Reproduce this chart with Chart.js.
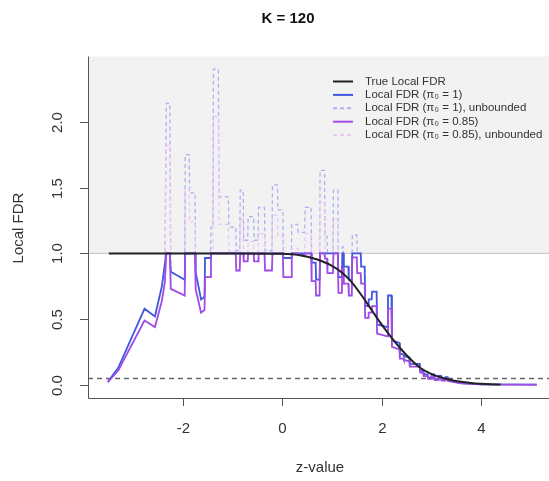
<!DOCTYPE html>
<html>
<head>
<meta charset="utf-8">
<script src="https://cdn.jsdelivr.net/npm/chart.js@4"></script>
<style>
  body { margin: 0; background: #fff; }
  canvas { display: block; }
</style>
</head>
<body>
<canvas id="graphique_fdr" width="549" height="481"></canvas>
<script>
// DATA
const chartTitle = 'K = 120';
const xTicks = [-2, 0, 2, 4];
const yTicks = [0.0, 0.5, 1.0, 1.5, 2.0];
const cutoff = 0.05;

// true local fdr curve
const trueZ = [-3.5, -1, 0, 0.2, 0.4, 0.6, 0.8, 1.0, 1.2, 1.4, 1.6, 1.8, 2.0, 2.2, 2.4, 2.6, 2.8, 3.0, 3.2, 3.4, 3.6, 3.8, 4.0, 4.2, 4.4];
const trueFdr = [1, 1, 0.998, 0.993, 0.982, 0.965, 0.94, 0.905, 0.855, 0.78, 0.68, 0.57, 0.46, 0.36, 0.27, 0.19, 0.125, 0.085, 0.058, 0.038, 0.024, 0.015, 0.009, 0.005, 0.003];

// estimated local fdr (step points)
const zValues = [
  -3.52, -3.31, -2.78, -2.57, -2.43, -2.37, -2.34, -2.27, -2.25, -1.97,
  -1.96, -1.88, -1.87, -1.76, -1.75, -1.64, -1.57, -1.56, -1.45, -1.44,
  -1.40, -1.39, -1.29, -1.28, -1.09, -1.08, -0.94, -0.93, -0.86, -0.85,
  -0.79, -0.78, -0.70, -0.69, -0.58, -0.57, -0.49, -0.48, -0.36, -0.35,
  -0.21, -0.20, -0.10, -0.09, 0.01, 0.02, 0.18, 0.19, 0.31, 0.32,
  0.45, 0.46, 0.58, 0.59, 0.67, 0.68, 0.75, 0.76, 0.85, 0.86,
  0.90, 0.91, 1.02, 1.03, 1.12, 1.13, 1.20, 1.21, 1.23, 1.24,
  1.33, 1.34, 1.40, 1.41, 1.50, 1.51, 1.58, 1.59, 1.66, 1.67,
  1.73, 1.74, 1.80, 1.81, 1.90, 1.91, 2.12, 2.13, 2.20, 2.21,
  2.36, 2.37, 2.44, 2.45, 2.56, 2.57, 2.77, 2.78, 2.84, 2.85,
  2.93, 2.94, 3.00, 3.01, 3.06, 3.07, 3.14, 3.15, 3.20, 3.21,
  3.28, 3.29, 3.33, 3.34, 3.60, 4.00, 5.13
];
const fdrPi1 = [
  0.025, 0.13, 0.58, 0.52, 0.75, 0.92, 1, 1, 0.86, 0.80,
  1, 1, 1, 1, 0.86, 0.65, 0.67, 0.965, 0.965, 1,
  1, 1, 1, 1, 1, 1, 1, 1, 1, 1,
  1, 1, 1, 1, 1, 1, 1, 1, 1, 1,
  1, 1, 1, 1, 1, 0.965, 0.965, 1, 1, 1,
  1, 1, 1, 0.93, 0.93, 0.80, 0.80, 1, 1, 1,
  1, 1, 1, 1, 1, 0.82, 0.82, 1, 1, 0.90,
  0.90, 0.80, 0.80, 1, 1, 1, 1, 0.90, 0.90, 0.60,
  0.60, 0.65, 0.65, 0.71, 0.71, 0.46, 0.44, 0.68, 0.68, 0.34,
  0.32, 0.24, 0.23, 0.22, 0.21, 0.16, 0.16, 0.11, 0.11, 0.08,
  0.08, 0.055, 0.055, 0.08, 0.08, 0.045, 0.045, 0.07, 0.07, 0.04,
  0.04, 0.06, 0.06, 0.035, 0.014, 0.005, 0.003
];
const fdrPi1Unbounded = [
  0.025, 0.13, 0.58, 0.52, 0.75, 0.92, 2.14, 2.14, 0.86, 0.80,
  1.75, 1.75, 1.46, 1.46, 0.86, 0.65, 0.67, 0.965, 0.965, 1.20,
  1.20, 2.40, 2.40, 1.43, 1.43, 1.20, 1.20, 1.02, 1.02, 1.48,
  1.48, 1.10, 1.10, 1.28, 1.28, 1.10, 1.10, 1.35, 1.35, 1.02,
  1.02, 1.52, 1.52, 1.33, 1.33, 0.965, 0.965, 1.22, 1.22, 1.16,
  1.16, 1.35, 1.35, 0.93, 0.93, 0.80, 0.80, 1.63, 1.63, 1.13,
  1.13, 1.00, 1.00, 1.48, 1.48, 0.82, 0.82, 1.05, 1.05, 0.90,
  0.90, 0.80, 0.80, 1.14, 1.14, 1.00, 1.00, 0.90, 0.90, 0.60,
  0.60, 0.65, 0.65, 0.71, 0.71, 0.46, 0.44, 0.68, 0.68, 0.34,
  0.32, 0.24, 0.23, 0.22, 0.21, 0.16, 0.16, 0.11, 0.11, 0.08,
  0.08, 0.055, 0.055, 0.08, 0.08, 0.045, 0.045, 0.07, 0.07, 0.04,
  0.04, 0.06, 0.06, 0.035, 0.014, 0.005, 0.003
];
const fdrPi085 = [
  0.021, 0.11, 0.49, 0.44, 0.64, 0.78, 1, 1, 0.73, 0.68,
  1, 1, 1, 1, 0.73, 0.55, 0.57, 0.82, 0.82, 1,
  1, 1, 1, 1, 1, 1, 1, 0.87, 0.87, 1,
  1, 0.94, 0.94, 1, 1, 0.94, 0.94, 1, 1, 0.87,
  0.87, 1, 1, 1, 1, 0.82, 0.82, 1, 1, 0.99,
  0.99, 1, 1, 0.79, 0.79, 0.68, 0.68, 1, 1, 0.96,
  0.96, 0.85, 0.85, 1, 1, 0.70, 0.70, 0.89, 0.89, 0.77,
  0.77, 0.68, 0.68, 0.97, 0.97, 0.85, 0.85, 0.77, 0.77, 0.51,
  0.51, 0.55, 0.55, 0.60, 0.60, 0.39, 0.37, 0.58, 0.58, 0.29,
  0.27, 0.20, 0.20, 0.19, 0.18, 0.14, 0.14, 0.094, 0.094, 0.068,
  0.068, 0.047, 0.047, 0.068, 0.068, 0.038, 0.038, 0.06, 0.06, 0.034,
  0.034, 0.051, 0.051, 0.03, 0.012, 0.004, 0.003
];
const fdrPi085Unbounded = [
  0.021, 0.11, 0.49, 0.44, 0.64, 0.78, 1.82, 1.82, 0.73, 0.68,
  1.49, 1.49, 1.24, 1.24, 0.73, 0.55, 0.57, 0.82, 0.82, 1.02,
  1.02, 2.04, 2.04, 1.22, 1.22, 1.02, 1.02, 0.87, 0.87, 1.26,
  1.26, 0.94, 0.94, 1.09, 1.09, 0.94, 0.94, 1.15, 1.15, 0.87,
  0.87, 1.29, 1.29, 1.13, 1.13, 0.82, 0.82, 1.04, 1.04, 0.99,
  0.99, 1.15, 1.15, 0.79, 0.79, 0.68, 0.68, 1.39, 1.39, 0.96,
  0.96, 0.85, 0.85, 1.26, 1.26, 0.70, 0.70, 0.89, 0.89, 0.77,
  0.77, 0.68, 0.68, 0.97, 0.97, 0.85, 0.85, 0.77, 0.77, 0.51,
  0.51, 0.55, 0.55, 0.60, 0.60, 0.39, 0.37, 0.58, 0.58, 0.29,
  0.27, 0.20, 0.20, 0.19, 0.18, 0.14, 0.14, 0.094, 0.094, 0.068,
  0.068, 0.047, 0.047, 0.068, 0.068, 0.038, 0.038, 0.06, 0.06, 0.034,
  0.034, 0.051, 0.051, 0.03, 0.012, 0.004, 0.003
];

const legendItems = [
  { text: 'True Local FDR', color: '#222222', dash: [] },
  { text: 'Local FDR (\u03C0\u2080 = 1)', color: '#4059e0', dash: [] },
  { text: 'Local FDR (\u03C0\u2080 = 1), unbounded', color: '#aeb0f2', dash: [4, 3] },
  { text: 'Local FDR (\u03C0\u2080 = 0.85)', color: '#a04ce6', dash: [] },
  { text: 'Local FDR (\u03C0\u2080 = 0.85), unbounded', color: '#ecc6f3', dash: [4, 3] }
];

const FONT = '"Liberation Sans", Arial, sans-serif';

function toPoints(xs, ys) {
  return xs.map((x, i) => ({ x: x, y: ys[i] }));
}

// gray zone above 1, the frame, ticks, titles and legend (R base style)
const rStylePlugin = {
  id: 'rStyle',
  beforeDatasetsDraw(chart) {
    const { ctx, chartArea, scales } = chart;
    const y1 = scales.y.getPixelForValue(1);
    ctx.save();
    ctx.fillStyle = '#f2f2f2';
    ctx.fillRect(chartArea.left, chartArea.top, chartArea.right - chartArea.left, y1 - chartArea.top);
    ctx.strokeStyle = '#c4c4c4';
    ctx.lineWidth = 1;
    ctx.beginPath();
    ctx.moveTo(chartArea.left, y1);
    ctx.lineTo(chartArea.right, y1);
    ctx.stroke();
    ctx.restore();
  },
  afterDraw(chart) {
    const { ctx, chartArea, scales } = chart;
    ctx.save();
    ctx.strokeStyle = '#555';
    ctx.lineWidth = 1;
    // frame
    ctx.beginPath();
    ctx.moveTo(chartArea.left + 0.5, chartArea.top);
    ctx.lineTo(chartArea.left + 0.5, chartArea.bottom + 0.5);
    ctx.lineTo(chartArea.right, chartArea.bottom + 0.5);
    ctx.stroke();

    ctx.fillStyle = '#333';
    ctx.font = '15px ' + FONT;
    // x ticks
    ctx.textAlign = 'center';
    ctx.textBaseline = 'middle';
    xTicks.forEach(t => {
      const px = Math.round(scales.x.getPixelForValue(t)) + 0.5;
      ctx.beginPath();
      ctx.moveTo(px, chartArea.bottom);
      ctx.lineTo(px, chartArea.bottom + 8);
      ctx.stroke();
      ctx.fillText(String(t), px, 429);
    });
    // y ticks, labels turned like R
    yTicks.forEach(t => {
      const py = Math.round(scales.y.getPixelForValue(t)) + 0.5;
      ctx.beginPath();
      ctx.moveTo(chartArea.left, py);
      ctx.lineTo(chartArea.left - 8, py);
      ctx.stroke();
      ctx.save();
      ctx.translate(58, py);
      ctx.rotate(-Math.PI / 2);
      ctx.fillText(t.toFixed(1), 0, 0);
      ctx.restore();
    });
    // axis titles
    ctx.fillText('z-value', 320, 468);
    ctx.save();
    ctx.translate(19, 228);
    ctx.rotate(-Math.PI / 2);
    ctx.fillText('Local FDR', 0, 0);
    ctx.restore();
    // main title
    ctx.font = 'bold 15px ' + FONT;
    ctx.fillStyle = '#111';
    ctx.fillText(chartTitle, 288, 19);

    // legend
    ctx.font = '11.5px ' + FONT;
    ctx.textAlign = 'left';
    legendItems.forEach((item, i) => {
      const ly = 81.5 + i * 13.4;
      ctx.strokeStyle = item.color;
      ctx.lineWidth = 2;
      ctx.setLineDash(item.dash);
      ctx.beginPath();
      ctx.moveTo(333, ly);
      ctx.lineTo(353, ly);
      ctx.stroke();
      ctx.setLineDash([]);
      ctx.fillStyle = '#333';
      ctx.fillText(item.text, 365, ly);
    });
    ctx.restore();
  }
};

function creationChart() {
  const graph = document.getElementById('graphique_fdr');
  new Chart(graph, {
    type: 'line',
    data: {
      datasets: [
        {
          data: toPoints(trueZ, trueFdr),
          borderColor: '#222222',
          borderWidth: 2,
          cubicInterpolationMode: 'monotone',
          order: 0
        },
        {
          data: toPoints(zValues, fdrPi085),
          borderColor: '#a04ce6',
          borderWidth: 1.8,
          order: 1
        },
        {
          data: toPoints(zValues, fdrPi1),
          borderColor: '#4059e0',
          borderWidth: 1.8,
          order: 2
        },
        {
          data: toPoints(zValues, fdrPi085Unbounded),
          borderColor: '#ecc6f3',
          borderWidth: 1.3,
          borderDash: [4, 3],
          order: 3
        },
        {
          data: toPoints(zValues, fdrPi1Unbounded),
          borderColor: '#aeb0f2',
          borderWidth: 1.3,
          borderDash: [4, 3],
          order: 4
        },
        {
          data: [{ x: -3.92, y: cutoff }, { x: 5.377, y: cutoff }],
          borderColor: '#666666',
          borderWidth: 1.5,
          borderDash: [5, 4],
          order: 5
        }
      ]
    },
    options: {
      responsive: false,
      animation: false,
      devicePixelRatio: 1,
      layout: {
        padding: { left: 88, top: 56.5, right: 0, bottom: 83 }
      },
      elements: {
        point: { radius: 0 },
        line: { tension: 0, fill: false }
      },
      plugins: {
        legend: { display: false },
        tooltip: { enabled: false }
      },
      scales: {
        x: { type: 'linear', min: -3.92, max: 5.377, display: false },
        y: { type: 'linear', min: -0.0988, max: 2.496, display: false }
      }
    },
    plugins: [rStylePlugin]
  });
}

creationChart();
</script>
</body>
</html>
